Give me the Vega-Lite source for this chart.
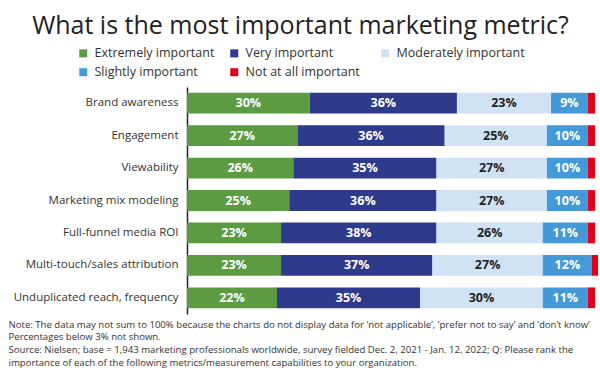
{
  "$schema": "https://vega.github.io/schema/vega-lite/v6.json",
  "width": 409,
  "height": 227,
  "autosize": {"type": "none"},
  "padding": {"left": 187, "top": 87, "right": 4, "bottom": 61},
  "background": "white",
  "config": {
    "font": "Open Sans",
    "view": {"stroke": null}
  },
  "title": {
    "text": "What is the most important marketing metric?",
    "fontSize": 25,
    "fontWeight": "normal",
    "color": "#222222",
    "anchor": "middle",
    "dx": -91,
    "offset": 8
  },
  "data": {
    "values": [
      {"metric": "Brand awareness", "level": "Extremely important", "rank": 1, "value": 30},
      {"metric": "Brand awareness", "level": "Very important", "rank": 2, "value": 36},
      {"metric": "Brand awareness", "level": "Moderately important", "rank": 3, "value": 23},
      {"metric": "Brand awareness", "level": "Slightly important", "rank": 4, "value": 9},
      {"metric": "Brand awareness", "level": "Not at all important", "rank": 5, "value": 1.8},
      {"metric": "Engagement", "level": "Extremely important", "rank": 1, "value": 27},
      {"metric": "Engagement", "level": "Very important", "rank": 2, "value": 36},
      {"metric": "Engagement", "level": "Moderately important", "rank": 3, "value": 25},
      {"metric": "Engagement", "level": "Slightly important", "rank": 4, "value": 10},
      {"metric": "Engagement", "level": "Not at all important", "rank": 5, "value": 1.8},
      {"metric": "Viewability", "level": "Extremely important", "rank": 1, "value": 26},
      {"metric": "Viewability", "level": "Very important", "rank": 2, "value": 35},
      {"metric": "Viewability", "level": "Moderately important", "rank": 3, "value": 27},
      {"metric": "Viewability", "level": "Slightly important", "rank": 4, "value": 10},
      {"metric": "Viewability", "level": "Not at all important", "rank": 5, "value": 1.8},
      {"metric": "Marketing mix modeling", "level": "Extremely important", "rank": 1, "value": 25},
      {"metric": "Marketing mix modeling", "level": "Very important", "rank": 2, "value": 36},
      {"metric": "Marketing mix modeling", "level": "Moderately important", "rank": 3, "value": 27},
      {"metric": "Marketing mix modeling", "level": "Slightly important", "rank": 4, "value": 10},
      {"metric": "Marketing mix modeling", "level": "Not at all important", "rank": 5, "value": 1.8},
      {"metric": "Full-funnel media ROI", "level": "Extremely important", "rank": 1, "value": 23},
      {"metric": "Full-funnel media ROI", "level": "Very important", "rank": 2, "value": 38},
      {"metric": "Full-funnel media ROI", "level": "Moderately important", "rank": 3, "value": 26},
      {"metric": "Full-funnel media ROI", "level": "Slightly important", "rank": 4, "value": 11},
      {"metric": "Full-funnel media ROI", "level": "Not at all important", "rank": 5, "value": 1.8},
      {"metric": "Multi-touch/sales attribution", "level": "Extremely important", "rank": 1, "value": 23},
      {"metric": "Multi-touch/sales attribution", "level": "Very important", "rank": 2, "value": 37},
      {"metric": "Multi-touch/sales attribution", "level": "Moderately important", "rank": 3, "value": 27},
      {"metric": "Multi-touch/sales attribution", "level": "Slightly important", "rank": 4, "value": 12},
      {"metric": "Multi-touch/sales attribution", "level": "Not at all important", "rank": 5, "value": 1.5},
      {"metric": "Unduplicated reach, frequency", "level": "Extremely important", "rank": 1, "value": 22},
      {"metric": "Unduplicated reach, frequency", "level": "Very important", "rank": 2, "value": 35},
      {"metric": "Unduplicated reach, frequency", "level": "Moderately important", "rank": 3, "value": 30},
      {"metric": "Unduplicated reach, frequency", "level": "Slightly important", "rank": 4, "value": 11},
      {"metric": "Unduplicated reach, frequency", "level": "Not at all important", "rank": 5, "value": 1.8}
    ]
  },
  "encoding": {
    "y": {
      "field": "metric",
      "type": "nominal",
      "sort": ["Brand awareness", "Engagement", "Viewability", "Marketing mix modeling", "Full-funnel media ROI", "Multi-touch/sales attribution", "Unduplicated reach, frequency"],
      "scale": {"paddingInner": 0.36, "paddingOuter": 0.18},
      "axis": {
        "title": null,
        "ticks": false,
        "domainColor": "#222222",
        "domainWidth": 1.5,
        "labelFontSize": 11.5,
        "labelColor": "#333333",
        "labelPadding": 9
      }
    }
  },
  "layer": [
    {
      "mark": {"type": "bar"},
      "encoding": {
        "x": {
          "field": "value",
          "type": "quantitative",
          "stack": "zero",
          "scale": {"domain": [0, 100], "nice": false, "zero": true},
          "axis": {
            "orient": "bottom",
            "domain": false,
            "ticks": false,
            "labels": false,
            "grid": false,
            "title": [
              "Note: The data may not sum to 100% because the charts do not display data for ‘not applicable’, ‘prefer not to say’ and ‘don’t know’",
              "Percentages below 3% not shown.",
              "Source: Nielsen; base = 1,943 marketing professionals worldwide,  survey fielded Dec. 2, 2021 - Jan. 12, 2022; Q: Please rank the",
              "importance of each of the following  metrics/measurement capabilities to your organization."
            ],
            "titleFontSize": 9.6,
            "titleFontWeight": "normal",
            "titleColor": "#333333",
            "titleAlign": "left",
            "titleAnchor": "start",
            "titleBaseline": "top",
            "titleLineHeight": 12.8,
            "titleX": -179,
            "titleY": 5
          }
        },
        "color": {
          "field": "level",
          "type": "nominal",
          "scale": {
            "domain": ["Extremely important", "Very important", "Moderately important", "Slightly important", "Not at all important"],
            "range": ["#5c9b42", "#2e3a8c", "#cfe3f5", "#4499d9", "#e1001a"]
          },
          "legend": {
            "title": null,
            "orient": "none",
            "legendX": -110,
            "legendY": -40,
            "direction": "horizontal",
            "columns": 3,
            "gridAlign": "all",
            "symbolType": "square",
            "symbolSize": 64,
            "symbolStrokeWidth": 0,
            "labelFontSize": 12.5,
            "labelColor": "#333333",
            "columnPadding": 5,
            "rowPadding": 6,
            "labelOffset": 5
          }
        },
        "order": {"field": "rank", "type": "quantitative"}
      }
    },
    {
      "transform": [
        {"filter": "datum.value >= 3"},
        {"calculate": "format(datum.value, 'd') + '%'", "as": "label"}
      ],
      "mark": {"type": "text", "fontWeight": "bold", "fontSize": 12.5},
      "encoding": {
        "x": {"field": "value", "type": "quantitative", "stack": "zero", "bandPosition": 0.5},
        "order": {"field": "rank", "type": "quantitative"},
        "text": {"field": "label", "type": "nominal"},
        "color": {
          "condition": {"test": "datum.level === 'Moderately important'", "value": "#222222"},
          "value": "white"
        }
      }
    }
  ]
}
